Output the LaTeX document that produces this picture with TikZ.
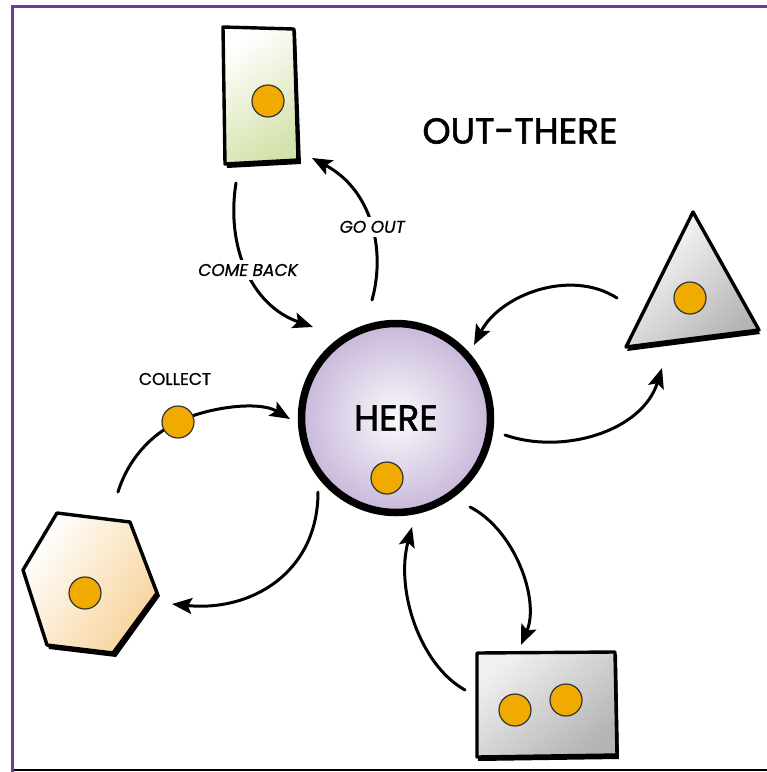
\documentclass[tikz,border=0pt]{standalone}
\usepackage{fontspec}
\setmainfont{Poppins}
\newfontfamily\heavyfont[FakeBold=1.6]{Poppins}
\newfontfamily\tagfont[FakeBold=0.8, FakeSlant=0.18]{Poppins}
\newfontfamily\uptagfont[FakeBold=0.8]{Poppins}
\usetikzlibrary{arrows.meta}
\definecolor{frame}{HTML}{6A3D9A}
\definecolor{baseline}{HTML}{E4E2EA}
\definecolor{dotorange}{HTML}{F0AA00}
\definecolor{leaf}{HTML}{D3E2AA}
\definecolor{peach}{HTML}{F7D39A}
\definecolor{stone}{HTML}{B4B4B4}
\definecolor{lilac}{HTML}{C8B8DA}
\tikzset{
  dot/.style={circle, fill=dotorange, draw=black!80, line width=1.2pt, minimum size=32pt, inner sep=0pt},
  shapeline/.style={draw=black, line width=3.4pt, line join=round},
  shadowfill/.style={fill=black},
  conn/.style={line width=3pt, line cap=round, -{Stealth[length=20pt,width=16pt,inset=4pt]}},
  bigtext/.style={font=\heavyfont\fontsize{36}{40}\selectfont},
  tag/.style={font=\tagfont\fontsize{17}{20}\selectfont, fill=white, inner sep=4pt},
  uptag/.style={font=\uptagfont\fontsize{17}{20}\selectfont, inner sep=2pt}
}
\begin{document}
\begin{tikzpicture}[x=1pt,y=-1pt]
\useasboundingbox[fill=white] (0,0) rectangle (767,772);

% frame
\fill[baseline] (13.5,768.5) rectangle (767,771);
\draw[frame, line width=3pt] (12,772) -- (12,6) -- (767,6);

% top card
\fill[shadowfill] (225,30) -- (296,32) -- (301,164) -- (227,168) -- cycle;
\shade[top color=white, bottom color=leaf, shading angle=35]
  (223,27) -- (294,29) -- (298,160) -- (225,164) -- cycle;
\draw[shapeline] (223,27) -- (294,29) -- (298,160) -- (225,164) -- cycle;
\node[dot] (dtop) at (268,101) {};

% triangle
\fill[shadowfill] (693,215) -- (760,334) -- (627,351) -- cycle;
\shade[top color=white, bottom color=stone, shading angle=45]
  (693,212) -- (759,330) -- (626,347) -- cycle;
\draw[shapeline] (693,212) -- (759,330) -- (626,347) -- cycle;
\node[dot] (dtri) at (690,298) {};

% hexagon
\fill[shadowfill] (58,515) -- (132,524) -- (160,596) -- (116,657) -- (49,649) -- (24,572) -- cycle;
\shade[top color=white, bottom color=peach, shading angle=55]
  (57,513) -- (130,522) -- (157,593) -- (113,653) -- (47,645) -- (23,570) -- cycle;
\draw[shapeline] (57,513) -- (130,522) -- (157,593) -- (113,653) -- (47,645) -- (23,570) -- cycle;
\node[dot] (dhex) at (85,593) {};

% bottom card
\fill[shadowfill] (478,656) -- (617,655) -- (619,759) -- (478,761) -- cycle;
\shade[top color=black!6, bottom color=stone, shading angle=40]
  (477,653) -- (615,652) -- (617,755) -- (477,757) -- cycle;
\draw[shapeline] (477,653) -- (615,652) -- (617,755) -- (477,757) -- cycle;
\node[dot] (dbl) at (515,710) {};
\node[dot] (dbr) at (566,700) {};

% centre
\node[circle, minimum size=189pt, inner sep=0pt, draw=black, line width=7.5pt,
      inner color=white!92!lilac, outer color=lilac, bigtext] (here) at (396,418) {HERE};
\node[dot] (dhere) at (387,478) {};

\node[bigtext] (outthere) at (520,131) {OUT-THERE};

% connector ends
\coordinate (cbS) at (236,183);   \coordinate (cbE) at (313,327);
\coordinate (goS) at (372,300);   \coordinate (goE) at (312,158);
\coordinate (trS) at (617,298);   \coordinate (trE) at (474,345);
\coordinate (toS) at (505,435);   \coordinate (toE) at (662,368);
\coordinate (brS) at (470,507);   \coordinate (brE) at (521,645);
\coordinate (bkS) at (465,690);   \coordinate (bkE) at (412,527);
\coordinate (hxS) at (318,492);   \coordinate (hxE) at (172,604);
\coordinate (clS) at (118,492);   \coordinate (clE) at (290,419);

\draw[conn] (cbS) .. controls (226,245) and (250,305) .. (cbE)
  node[tag, pos=0.5] {COME BACK};
\draw[conn] (goS) .. controls (386,250) and (372,190) .. (goE)
  node[tag, pos=0.47] {GO OUT};
\draw[conn] (trS) .. controls (570,268) and (500,295) .. (trE);
\draw[conn] (toS) .. controls (562,455) and (642,432) .. (toE);
\draw[conn] (brS) .. controls (515,530) and (540,600) .. (brE);
\draw[conn] (bkS) .. controls (420,665) and (395,590) .. (bkE);
\draw[conn] (hxS) .. controls (318,572) and (252,612) .. (hxE);
\draw[line width=3pt, line cap=round] (clS) .. controls (128,460) and (150,435) .. (178,422);
\draw[conn] (178,422) .. controls (205,408) and (258,400) .. (clE);
\node[dot] (dcol) at (178,422) {};
\node[uptag] (collect) at (175,379) {COLLECT};
\end{tikzpicture}
\end{document}
